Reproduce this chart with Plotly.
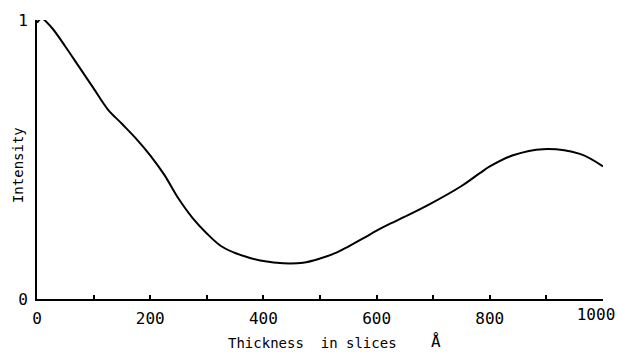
import plotly.graph_objects as go

thickness = [0, 8, 25, 50, 75, 100, 125, 150, 175, 200, 225, 250, 275, 300, 325, 350,
             375, 400, 435, 470, 500, 530, 550, 576, 600, 624, 650, 694, 750, 783,
             800, 841, 894, 959, 1000]
intensity = [0.99, 1.005, 0.975, 0.905, 0.83, 0.755, 0.68, 0.628, 0.575, 0.515, 0.445,
             0.36, 0.29, 0.235, 0.19, 0.165, 0.148, 0.136, 0.128, 0.13, 0.145, 0.167,
             0.188, 0.217, 0.245, 0.27, 0.295, 0.34, 0.405, 0.452, 0.475, 0.515, 0.537,
             0.52, 0.475]

x_ticks = [0, 200, 400, 600, 800, 1000]
x_tick_text = ["0", "200", "400", "600", "800", "1000"]
y_ticks = [0, 1]

FONT = "DejaVu Sans Mono"

fig = go.Figure()
fig.add_trace(go.Scatter(
    x=thickness, y=intensity, mode="lines",
    line=dict(color="black", width=2, shape="spline", smoothing=1.0),
    cliponaxis=False, hoverinfo="skip", showlegend=False,
))
# invisible helper so the overlay axis carrying the last tick label is drawn
fig.add_trace(go.Scatter(
    x=x_ticks[-1:], y=y_ticks[:1], xaxis="x2", mode="markers",
    marker=dict(opacity=0), hoverinfo="skip", showlegend=False,
))

fig.update_layout(
    width=617, height=352,
    margin=dict(l=37, r=14, t=20, b=53, autoexpand=False),
    paper_bgcolor="white", plot_bgcolor="white",
    font=dict(family=FONT, size=16, color="black"),
    xaxis=dict(
        range=[0, 1000], tickvals=x_ticks, ticktext=x_tick_text[:-1] + [""],
        ticks="inside", ticklen=4, tickwidth=1.5,
        tickcolor="black", showline=True, linecolor="black", linewidth=2,
        showgrid=False, zeroline=False, automargin=False,
        minor=dict(dtick=100, tick0=0, ticks="inside", ticklen=4, tickcolor="black"),
        tickfont=dict(family=FONT, size=16), ticklabelstandoff=4,
    ),
    xaxis2=dict(
        overlaying="x", anchor="y", side="bottom", range=[0, 1000],
        tickvals=x_ticks[-1:], ticktext=x_tick_text[-1:], ticks="",
        showline=False, showgrid=False, zeroline=False, automargin=False,
        ticklabelshift=-7, ticklabelstandoff=4,
        tickfont=dict(family=FONT, size=16),
    ),
    yaxis=dict(
        range=[0, 1], tickvals=y_ticks, ticks="", showline=True, linecolor="black",
        linewidth=2, showgrid=False, zeroline=False, automargin=False,
        tickfont=dict(family=FONT, size=16), ticklabelstandoff=4,
    ),
    annotations=[
        dict(text="Intensity", textangle=-90, xref="paper", yref="paper",
             x=-0.0336, y=0.48, xanchor="center", yanchor="middle",
             showarrow=False, font=dict(family=FONT, size=14)),
        dict(text="Thickness\u00a0 in slices", xref="paper", yref="paper",
             x=0.4867, y=-0.158, xanchor="center", yanchor="middle",
             showarrow=False, font=dict(family=FONT, size=14)),
        dict(text="Å", xref="paper", yref="paper",
             x=0.705, y=-0.151, xanchor="center", yanchor="middle",
             showarrow=False, font=dict(family=FONT, size=16)),
    ],
)

fig.write_html(
    "out.html",
    config={"displayModeBar": False},
    post_script="document.body.style.margin='0';document.body.style.padding='0';"
                "document.body.style.overflow='hidden';",
)
